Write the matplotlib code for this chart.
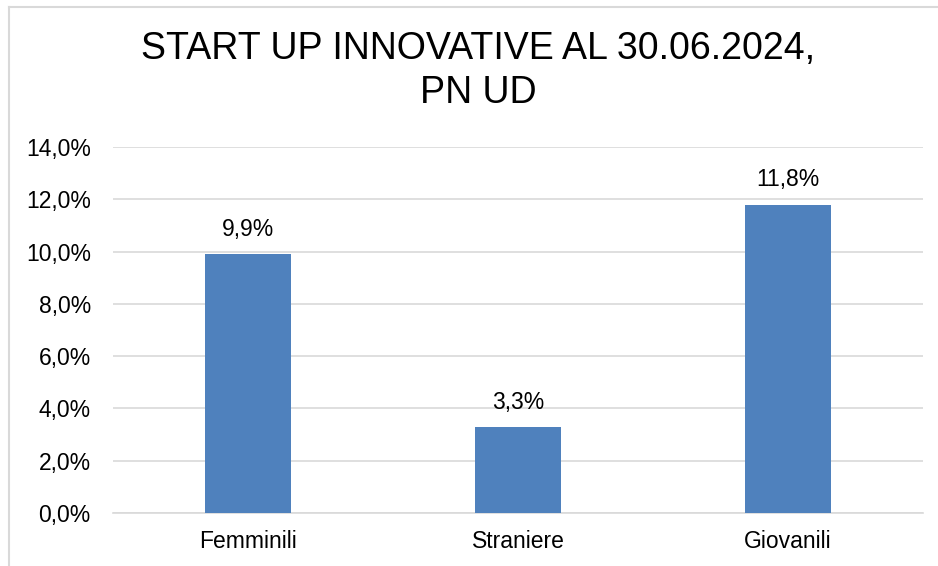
import matplotlib.pyplot as plt
from matplotlib.lines import Line2D

categories = ['Femminili', 'Straniere', 'Giovanili']
values = [9.9, 3.3, 11.8]
yticks = [0, 2, 4, 6, 8, 10, 12, 14]

plt.rcParams['font.family'] = ['Liberation Sans', 'DejaVu Sans']

fig = plt.figure(figsize=(9.38, 5.66), dpi=100)

# light frame round the chart area (left and top edges visible)
fig.add_artist(Line2D([8.5 / 938, 8.5 / 938], [0, 1 - 7 / 566], color='#d9d9d9', lw=1.5))
fig.add_artist(Line2D([8.5 / 938, 1], [1 - 7 / 566, 1 - 7 / 566], color='#d9d9d9', lw=1.5))

ax = fig.add_axes([113 / 938, 1 - 513 / 566, 810 / 938, 366 / 566])
x = range(len(categories))
bars = ax.bar(x, values, width=0.315, color='#4f81bd', zorder=3)

for b, v in zip(bars, values):
  ax.text(b.get_x() + b.get_width() / 2, v + 0.5, f'{v:.1f}%'.replace('.', ','),
          ha='center', va='bottom', fontsize=16.5, color='#000000')

ax.set_xlim(-0.5, 2.5)
ax.set_ylim(0, 14)
ax.set_yticks(yticks)
ax.set_yticklabels([f'{t:.1f}%'.replace('.', ',') for t in yticks], fontsize=16.5)
ax.set_xticks(list(x))
ax.set_xticklabels(categories, fontsize=16.5)
ax.tick_params(axis='y', length=0, pad=16)
ax.tick_params(axis='x', length=0, pad=12)
ax.grid(axis='y', color='#d9d9d9', lw=1.2, zorder=0)
for s in ['top', 'right', 'left']:
  ax.spines[s].set_visible(False)
ax.spines['bottom'].set_color('#d9d9d9')
ax.spines['bottom'].set_linewidth(1.2)

fig.text(478 / 938, 1 - 71 / 566, 'START UP INNOVATIVE AL 30.06.2024,\nPN UD',
         ha='center', va='center', fontsize=27, linespacing=1.3)

fig.savefig('out.png', dpi=100)
